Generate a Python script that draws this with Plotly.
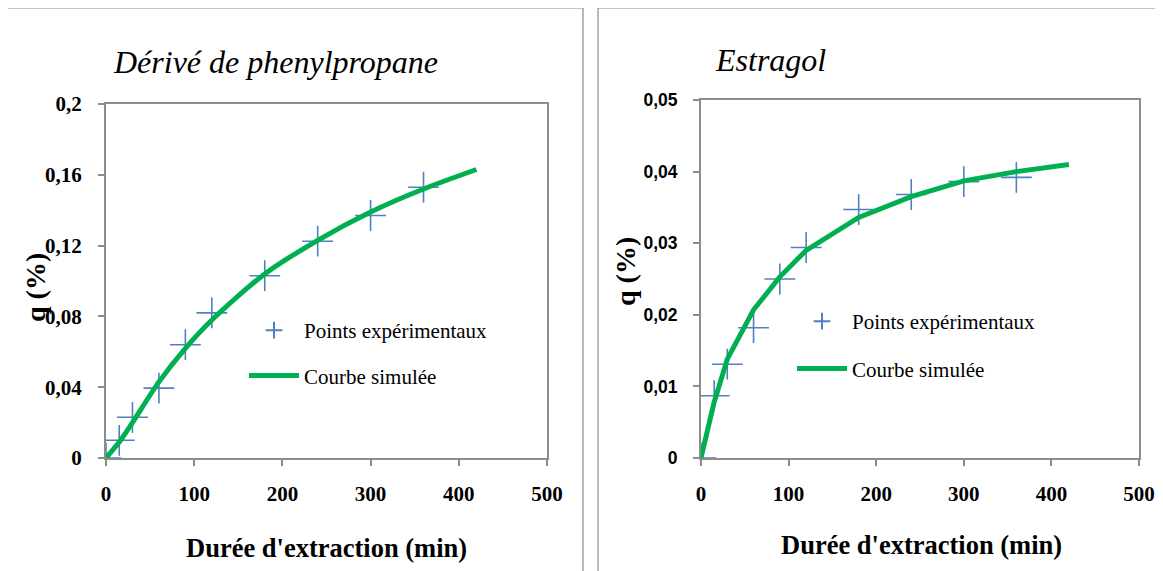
import plotly.graph_objects as go

# ---- data ----
t_exp = [0, 15, 30, 60, 90, 120, 180, 240, 300, 360]
q_phenyl_exp = [0, 0.010, 0.023, 0.0395, 0.064, 0.082, 0.103, 0.1225, 0.137, 0.153]
q_estragol_exp = [0, 0.0087, 0.0131, 0.0182, 0.0250, 0.0294, 0.0347, 0.0368, 0.0386, 0.0392]

t_sim = [0, 15, 30, 60, 90, 120, 180, 240, 300, 360, 420]
q_phenyl_sim = [0, 0.009, 0.020, 0.043, 0.062, 0.078, 0.104, 0.123, 0.139, 0.152, 0.163]
q_estragol_sim = [0, 0.0078, 0.0138, 0.0207, 0.0253, 0.0290, 0.0336, 0.0365, 0.0387, 0.0400, 0.0410]

x_ticks = [0, 100, 200, 300, 400, 500]
y1_ticks = [0, 0.04, 0.08, 0.12, 0.16, 0.2]
y1_text = ["0", "0,04", "0,08", "0,12", "0,16", "0,2"]
y2_ticks = [0, 0.01, 0.02, 0.03, 0.04, 0.05]
y2_text = ["0", "0,01", "0,02", "0,03", "0,04", "0,05"]

OFF = 8  # page body margin
W, H = 1163 - OFF, 571 - OFF
BLUE = "#4F81BD"
GREEN = "#00B050"
SERIF = "Liberation Serif"
SANS = "Liberation Sans"

fig = go.Figure()

def px(x):
    return (x - OFF) / W

def py(y):
    return 1 - (y - OFF) / H

# Left chart
fig.add_trace(go.Scatter(x=t_exp, y=q_phenyl_exp, mode="markers", name="Points expérimentaux",
                         marker=dict(symbol="cross-thin", size=22, line=dict(color=BLUE, width=1.6), color=BLUE),
                         xaxis="x", yaxis="y", legend="legend", legendgroup="a"))
fig.add_trace(go.Scatter(x=t_sim, y=q_phenyl_sim, mode="lines", name="Courbe simulée",
                         line=dict(color=GREEN, width=5, shape="spline", smoothing=0.8),
                         xaxis="x", yaxis="y", legend="legend", legendgroup="b"))
# Right chart
fig.add_trace(go.Scatter(x=t_exp, y=q_estragol_exp, mode="markers", name="Points expérimentaux",
                         marker=dict(symbol="cross-thin", size=22, line=dict(color=BLUE, width=1.6), color=BLUE),
                         xaxis="x2", yaxis="y2", legend="legend2", legendgroup="c"))
fig.add_trace(go.Scatter(x=t_sim, y=q_estragol_sim, mode="lines", name="Courbe simulée",
                         line=dict(color=GREEN, width=5),
                         xaxis="x2", yaxis="y2", legend="legend2", legendgroup="d"))

axis_common = dict(showline=True, linecolor="#8c8c8c", linewidth=2, mirror=True,
                   ticks="outside", tickcolor="#8c8c8c", ticklen=6, tickwidth=1.5,
                   showgrid=False, zeroline=False, automargin=False)

fig.update_layout(
    template="none",
    width=W, height=H,
    margin=dict(l=0, r=0, t=0, b=0, pad=0),
    paper_bgcolor="white", plot_bgcolor="white",
    xaxis=dict(domain=[px(106), px(547)], range=[0, 500], tickvals=x_ticks, ticklabelstandoff=10,
               tickfont=dict(family=SERIF, size=21, color="black", weight="bold"),
               anchor="y", **axis_common),
    yaxis=dict(domain=[py(458), py(104)], range=[0, 0.2], tickvals=y1_ticks, ticktext=y1_text,
               ticklabelstandoff=12,
               tickfont=dict(family=SERIF, size=21, color="black", weight="bold"),
               anchor="x", **axis_common),
    xaxis2=dict(domain=[px(701), px(1139)], range=[0, 500], tickvals=x_ticks, ticklabelstandoff=10,
                tickfont=dict(family=SERIF, size=21, color="black", weight="bold"),
                anchor="y2", **axis_common),
    yaxis2=dict(domain=[py(458), py(100)], range=[0, 0.05], tickvals=y2_ticks, ticktext=y2_text,
                ticklabelstandoff=12,
                tickfont=dict(family=SANS, size=17.5, color="black", weight="bold"),
                anchor="x2", **axis_common),
    legend=dict(x=px(244), y=py(310), xanchor="left", yanchor="top", itemsizing="constant",
                bgcolor="rgba(0,0,0,0)", font=dict(family=SERIF, size=21, color="black"),
                traceorder="grouped", tracegroupgap=15, itemwidth=50),
    legend2=dict(x=px(792), y=py(301), xanchor="left", yanchor="top", itemsizing="constant",
                 bgcolor="rgba(0,0,0,0)", font=dict(family=SERIF, size=21, color="black"),
                 traceorder="grouped", tracegroupgap=17, itemwidth=50),
    showlegend=True,
)

# Titles and axis labels
ann = [
    dict(text="<i>Dérivé de phenylpropane</i>", x=px(111), y=py(62), xanchor="left", yanchor="middle",
         font=dict(family=SERIF, size=32, color="black")),
    dict(text="<i>Estragol</i>", x=px(713), y=py(60), xanchor="left", yanchor="middle",
         font=dict(family=SERIF, size=32, color="black")),
    dict(text="<b>q (%)</b>", x=px(35), y=py(288), xanchor="center", yanchor="middle", textangle=-90,
         font=dict(family=SERIF, size=28, color="black")),
    dict(text="<b>q (%)</b>", x=px(625), y=py(272), xanchor="center", yanchor="middle", textangle=-90,
         font=dict(family=SERIF, size=28, color="black")),
    dict(text="<b>Durée d'extraction (min)</b>", x=px(326), y=py(548), xanchor="center", yanchor="middle",
         font=dict(family=SERIF, size=26.5, color="black")),
    dict(text="<b>Durée d'extraction (min)</b>", x=px(921), y=py(545), xanchor="center", yanchor="middle",
         font=dict(family=SERIF, size=26.5, color="black")),
]
for a in ann:
    a.update(xref="paper", yref="paper", showarrow=False)
fig.update_layout(annotations=ann)

# Outer frames
fig.update_layout(shapes=[
    dict(type="rect", xref="paper", yref="paper", x0=px(7), x1=px(583), y0=py(580), y1=py(8),
         line=dict(color="#8c8c8c", width=1.2)),
    dict(type="rect", xref="paper", yref="paper", x0=px(598), x1=px(1170), y0=py(580), y1=py(8),
         line=dict(color="#8c8c8c", width=1.2)),
])

fig.write_html("out.html")
